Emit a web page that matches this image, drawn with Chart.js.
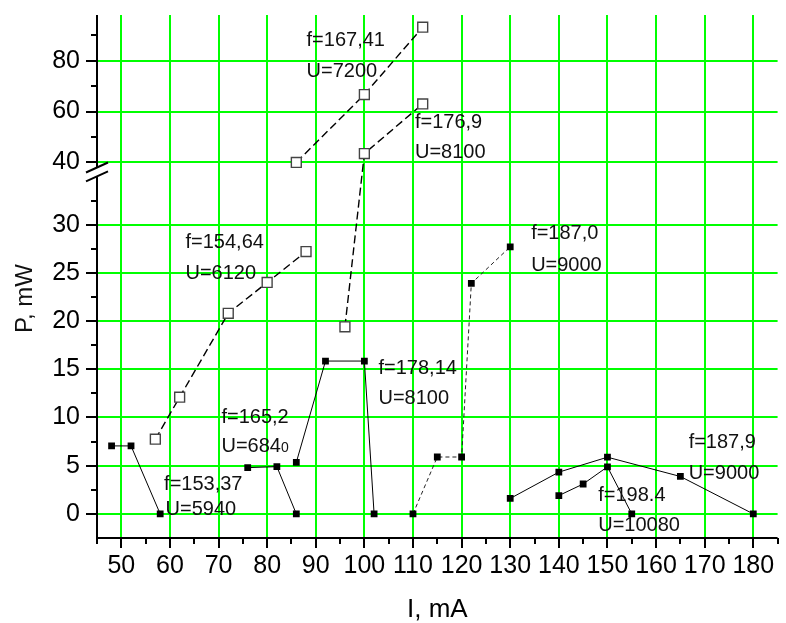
<!DOCTYPE html>
<html>
<head>
<meta charset="utf-8">
<script src="https://cdn.jsdelivr.net/npm/chart.js@4/dist/chart.umd.min.js"></script>
<style>
  html, body { margin: 0; padding: 0; background: #fff; }
  canvas { display: block; }
</style>
</head>
<body>
<canvas id="mycanvas" width="786" height="623"></canvas>
<script>
// data: current I (mA) and power P (mW)
var xF15337 = [48, 52, 58];
var yF15337 = [7.05, 7.05, 0];
var xF1652 = [76, 82, 86];
var yF1652 = [4.8, 4.9, 0];
var xF17814 = [86, 92, 100, 102];
var yF17814 = [5.35, 15.85, 15.85, 0];
var xF1870 = [110, 115, 120, 122, 130];
var yF1870 = [0, 5.9, 5.9, 23.9, 27.7];
var xF15464 = [57, 62, 72, 80, 88];
var yF15464 = [7.75, 12.1, 20.8, 24.0, 27.2];
var xF1769 = [96, 100, 112];
var yF1769 = [19.4, 43.5, 63.0];
var xF16741 = [86, 100, 112];
var yF16741 = [40.0, 66.7, 93.2];
var xF1879 = [130, 140, 150, 165, 180];
var yF1879 = [1.6, 4.33, 5.88, 3.88, 0];
var xF1984 = [140, 145, 150, 155];
var yF1984 = [1.9, 3.1, 4.88, 0];

var xTicks = [50, 60, 70, 80, 90, 100, 110, 120, 130, 140, 150, 160, 170, 180];
var yTicks = [0, 5, 10, 15, 20, 25, 30, 40, 60, 80];
var xMinor = [45, 55, 65, 75, 85, 95, 105, 115, 125, 135, 145, 155, 165, 175, 185];
var yMinor = [2.5, 7.5, 12.5, 17.5, 22.5, 27.5, 32.5, 50, 70, 90];

// broken y axis: lower and upper ranges
var yLow = [-2.5, 35];
var yHigh = [38, 98];

// text notes: [text, I, P, small suffix]
var notes = [
  ['f=167,41', 88.1, 86.0], ['U=7200', 88.1, 73.8],
  ['f=176,9', 110.4, 53.6], ['U=8100', 110.4, 41.8],
  ['f=154,64', 63.2, 27.6], ['U=6120', 63.2, 24.4],
  ['f=187,0', 134.3, 28.5], ['U=9000', 134.3, 25.2],
  ['f=178,14', 102.9, 14.5], ['U=8100', 102.9, 11.4],
  ['f=165,2', 70.6, 9.4], ['U=684', 70.6, 6.4, '0'],
  ['f=153,37', 58.8, 2.45], ['U=5940', 59.1, -0.13],
  ['f=187,9', 166.7, 6.85], ['U=9000', 166.7, 3.6],
  ['f=198.4', 148.1, 1.3], ['U=10080', 148.1, -1.8]
];

var FONT = "'Liberation Sans', Arial, sans-serif";
var lowFrac = 0.6914, gapFrac = 0.017;

class BrokenScale extends Chart.LinearScale {
  getPixelForValue(v) {
    var h = this.bottom - this.top;
    var lowH = h * lowFrac, gapH = h * gapFrac, upH = h - lowH - gapH;
    if (v <= yLow[1]) return this.bottom - (v - yLow[0]) / (yLow[1] - yLow[0]) * lowH;
    if (v >= yHigh[0]) return this.top + (yHigh[1] - v) / (yHigh[1] - yHigh[0]) * upH;
    return this.bottom - lowH - (v - yLow[1]) / (yHigh[0] - yLow[1]) * gapH;
  }
  getValueForPixel(p) {
    var h = this.bottom - this.top;
    var lowH = h * lowFrac, gapH = h * gapFrac, upH = h - lowH - gapH;
    var d = this.bottom - p;
    if (d <= lowH) return yLow[0] + d / lowH * (yLow[1] - yLow[0]);
    if (d >= lowH + gapH) return yHigh[1] - (p - this.top) / upH * (yHigh[1] - yHigh[0]);
    return yLow[1] + (d - lowH) / gapH * (yHigh[0] - yLow[1]);
  }
}
BrokenScale.id = 'broken';
Chart.register(BrokenScale);

function pts(xs, ys) {
  var out = [];
  for (var i = 0; i < xs.length; i++) out.push({x: xs[i], y: ys[i]});
  return out;
}

function solid(xs, ys) {
  return {
    data: pts(xs, ys), showLine: true, borderColor: '#000', borderWidth: 1,
    pointStyle: 'rect', pointRadius: 4.8, backgroundColor: '#000', pointBorderWidth: 0
  };
}
function openDash(xs, ys) {
  return {
    data: pts(xs, ys), showLine: true, borderColor: '#000', borderWidth: 1.4, borderDash: [8, 4],
    pointStyle: 'rect', pointRadius: 7, pointBackgroundColor: '#fff',
    pointBorderColor: '#444', pointBorderWidth: 1.4
  };
}

var decor = {
  id: 'decor',
  afterDraw: function(chart) {
    var ctx = chart.ctx, xs = chart.scales.x, ys = chart.scales.y, a = chart.chartArea;
    var i, p;
    ctx.save();
    ctx.strokeStyle = '#000';
    ctx.lineWidth = 2;
    ctx.beginPath();
    // x axis line and ticks
    ctx.moveTo(a.left - 1, a.bottom); ctx.lineTo(a.right, a.bottom);
    for (i = 0; i < xTicks.length; i++) {
      p = Math.round(xs.getPixelForValue(xTicks[i]));
      ctx.moveTo(p, a.bottom); ctx.lineTo(p, a.bottom + 10);
    }
    for (i = 0; i < xMinor.length; i++) {
      p = Math.round(xs.getPixelForValue(xMinor[i]));
      ctx.moveTo(p, a.bottom); ctx.lineTo(p, a.bottom + 6);
    }
    // y axis line with break
    var gTop = ys.getPixelForValue(yHigh[0]), gBot = ys.getPixelForValue(yLow[1]);
    ctx.moveTo(a.left, a.top); ctx.lineTo(a.left, gTop);
    ctx.moveTo(a.left, gBot); ctx.lineTo(a.left, a.bottom);
    for (i = 0; i < yTicks.length; i++) {
      p = Math.round(ys.getPixelForValue(yTicks[i]));
      ctx.moveTo(a.left, p); ctx.lineTo(a.left - 11, p);
    }
    for (i = 0; i < yMinor.length; i++) {
      p = Math.round(ys.getPixelForValue(yMinor[i]));
      ctx.moveTo(a.left, p); ctx.lineTo(a.left - 6, p);
    }
    ctx.stroke();
    // break marks
    ctx.beginPath();
    ctx.moveTo(a.left - 11, gTop + 5); ctx.lineTo(a.left + 11, gTop - 5);
    ctx.moveTo(a.left - 11, gBot + 5); ctx.lineTo(a.left + 11, gBot - 5);
    ctx.stroke();

    // notes
    ctx.fillStyle = '#111';
    ctx.textAlign = 'left';
    ctx.textBaseline = 'alphabetic';
    for (i = 0; i < notes.length; i++) {
      var n = notes[i];
      var nx = xs.getPixelForValue(n[1]), ny = ys.getPixelForValue(n[2]);
      ctx.font = '20px ' + FONT;
      ctx.fillText(n[0], nx, ny);
      if (n[3]) {
        var w = ctx.measureText(n[0]).width;
        ctx.font = '14px ' + FONT;
        ctx.fillText(n[3], nx + w, ny);
      }
    }

    // y title
    ctx.font = '24px ' + FONT;
    ctx.textAlign = 'center';
    ctx.textBaseline = 'middle';
    ctx.translate(25, (a.top + a.bottom) / 2 + 22);
    ctx.rotate(-Math.PI / 2);
    ctx.fillText('P, mW', 0, 0);
    ctx.restore();
  }
};

var ctx = document.getElementById('mycanvas');

var chart = new Chart(ctx, {
  type: 'scatter',
  data: {
    datasets: [
      solid(xF15337, yF15337),
      solid(xF1652, yF1652),
      solid(xF17814, yF17814),
      Object.assign(solid(xF1870, yF1870), {borderDash: [4, 3], borderColor: '#222'}),
      openDash(xF15464, yF15464),
      openDash(xF1769, yF1769),
      openDash(xF16741, yF16741),
      solid(xF1879, yF1879),
      solid(xF1984, yF1984)
    ]
  },
  options: {
    responsive: false,
    animation: false,
    events: [],
    layout: { padding: { top: 15, right: 0, left: 0, bottom: 0 } },
    plugins: { legend: { display: false }, tooltip: { enabled: false } },
    scales: {
      x: {
        type: 'linear',
        min: 45, max: 185,
        afterBuildTicks: function(s) { s.ticks = xTicks.map(function(v) { return {value: v}; }); },
        afterFit: function(s) { s.height = 85; s.paddingLeft = 0; s.paddingRight = 0; },
        grid: { color: '#00ff00', lineWidth: 2, drawTicks: false },
        border: { display: false },
        ticks: {
          autoSkip: false, maxRotation: 0, padding: 13, color: '#000',
          font: { family: FONT, size: 25 },
          callback: function(v) { return String(v); }
        },
        title: {
          display: true, text: 'I, mA', color: '#000',
          font: { family: FONT, size: 26, lineHeight: 1.05 },
          padding: { top: 0, bottom: 0 }
        }
      },
      y: {
        type: 'broken',
        min: yLow[0], max: yHigh[1],
        afterBuildTicks: function(s) { s.ticks = yTicks.map(function(v) { return {value: v}; }); },
        afterFit: function(s) { s.width = 97; s.paddingTop = 0; s.paddingBottom = 0; },
        grid: { color: '#00ff00', lineWidth: 2, drawTicks: false },
        border: { display: false },
        ticks: {
          autoSkip: false, padding: 17, color: '#000',
          font: { family: FONT, size: 25 },
          callback: function(v) { return String(v); }
        }
      }
    }
  },
  plugins: [decor]
});
</script>
</body>
</html>
